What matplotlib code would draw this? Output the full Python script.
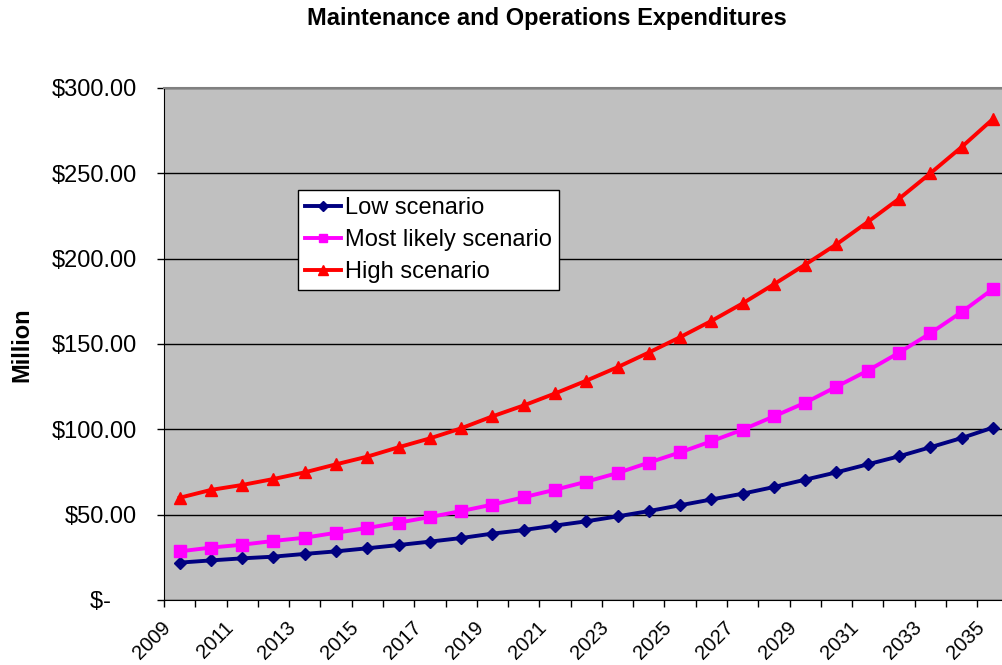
import numpy as np
import matplotlib
matplotlib.use('Agg')
import matplotlib.pyplot as plt
import matplotlib.transforms as mtransforms

plt.rcParams['font.family'] = ['Liberation Sans', 'DejaVu Sans']

# Data (million $)
years = list(range(2009, 2036))
low = [21.9, 23.2, 24.4, 25.4, 27.0, 28.5, 30.3, 32.2, 34.2, 36.3, 38.9, 41.0, 43.6, 46.1,
       49.0, 52.1, 55.5, 58.9, 62.3, 66.2, 70.5, 74.8, 79.5, 84.2, 89.5, 94.9, 101.0]
likely = [28.5, 30.7, 32.4, 34.6, 36.5, 39.4, 42.2, 45.3, 48.6, 52.1, 55.9, 60.2, 64.6, 69.3,
          74.4, 80.5, 86.5, 93.0, 99.8, 107.6, 115.6, 125.0, 134.4, 144.9, 156.3, 168.7, 182.2]
high = [59.9, 64.5, 67.4, 70.9, 74.8, 79.5, 84.0, 89.5, 94.7, 100.6, 107.6, 114.0, 121.0, 128.5,
        136.4, 145.0, 154.0, 163.5, 173.8, 185.0, 196.5, 208.4, 221.5, 235.1, 250.0, 265.4, 281.8]
ytick_vals = [0, 50, 100, 150, 200, 250, 300]
ytick_labels = ['$-    ', '$50.00', '$100.00', '$150.00', '$200.00', '$250.00', '$300.00']

fig = plt.figure(figsize=(10.02, 6.65), dpi=100)
ax = fig.add_axes([164 / 1002, 65 / 665, 844.5 / 1002, 512 / 665])
ax.set_facecolor('#C0C0C0')

# points sit in the middle of each category
xpos = np.arange(len(years)) + 0.5
ax.plot(xpos, low, color='#000080', lw=2.8, marker='D', ms=6.5, label='Low scenario', zorder=3)
ax.plot(xpos, likely, color='#FF00FF', lw=2.8, marker='s', ms=8, label='Most likely scenario', zorder=3)
ax.plot(xpos, high, color='#FF0000', lw=2.8, marker='^', ms=9, label='High scenario', zorder=3)

ax.set_xlim(0, len(years))
ax.set_ylim(0, 300)
ax.set_yticks(ytick_vals)
ax.set_yticklabels(ytick_labels)
ax.yaxis.grid(True, color='black', lw=1.0)
ax.set_axisbelow(True)

ax.set_xticks(np.arange(len(years)))
ax.set_xticklabels([str(y) if (y - 2009) % 2 == 0 else '' for y in years],
                   rotation=45, ha='right', va='center', rotation_mode='anchor')

ax.tick_params(axis='y', direction='out', length=5, width=1, labelsize=17, pad=14.5)
ax.tick_params(axis='x', direction='out', length=5, width=1, labelsize=14.5, pad=12.5)

# nudge rotated year labels a little to the right of their tick
shift = mtransforms.ScaledTranslation(4 / 100, 0, fig.dpi_scale_trans)
for lbl in ax.get_xticklabels():
    lbl.set_transform(lbl.get_transform() + shift)

ax.spines['left'].set_color('black')
ax.spines['bottom'].set_color('black')
ax.spines['top'].set_color('#808080')
ax.spines['top'].set_linewidth(1.5)
ax.spines['right'].set_visible(False)

fig.text(547 / 1002, 1 - 18 / 665, 'Maintenance and Operations Expenditures',
         ha='center', va='center', fontsize=17, fontweight='bold')
fig.text(22 / 1002, 1 - 345 / 665, 'Million', rotation=90, ha='center', va='center',
         fontsize=17, fontweight='bold')

leg = ax.legend(loc='upper left', bbox_to_anchor=(298 / 1002, 1 - 190 / 665),
                bbox_transform=fig.transFigure, fontsize=17, frameon=True, fancybox=False,
                framealpha=1, edgecolor='black', handlelength=1.5, handletextpad=0.2,
                labelspacing=0.42, borderpad=0.3, borderaxespad=0, markerscale=0.8)
leg.get_frame().set_linewidth(1.0)

fig.savefig('out.png', dpi=100)
